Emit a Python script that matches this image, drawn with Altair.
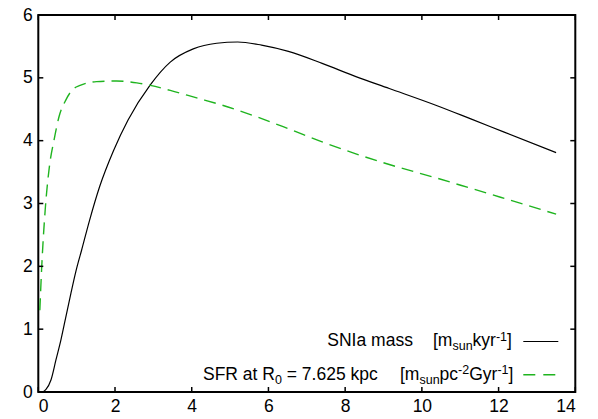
import altair as alt
import pandas as pd

# ---- data ----
snia_x = [0.12, 0.2, 0.33, 0.46, 0.59, 0.72, 0.85, 0.98, 1.13, 1.34, 1.60, 1.96, 2.34,
          2.91, 3.44, 4.04, 4.65, 5.2, 5.82, 6.52, 7.40, 8.28, 9.15, 10.38,
          11.26, 12.13, 13.5]
snia_y = [0.0, 0.04, 0.19, 0.51, 0.83, 1.20, 1.57, 1.92, 2.26, 2.74, 3.27, 3.84, 4.33,
          4.88, 5.25, 5.46, 5.55, 5.57, 5.52, 5.42, 5.23, 5.02, 4.83, 4.56,
          4.35, 4.14, 3.81]
sfr_x = [0.04, 0.09, 0.18, 0.29, 0.41, 0.54, 0.72, 0.89, 1.09, 1.52, 2.04, 2.57, 2.92,
         3.44, 4.13, 4.77, 5.65, 6.52, 7.40, 8.28, 9.15, 10.3, 11.18, 12.05, 13.5]
sfr_y = [1.30, 2.0, 2.90, 3.59, 4.01, 4.38, 4.65, 4.81, 4.88, 4.94, 4.95, 4.92, 4.88,
         4.80, 4.68, 4.57, 4.39, 4.19, 3.98, 3.79, 3.62, 3.42, 3.26, 3.10, 2.83]
x_ticks = [0, 2, 4, 6, 8, 10, 12, 14]
y_ticks = [0, 1, 2, 3, 4, 5, 6]

W, H = 537, 377
FONT = "Liberation Sans"
GREEN = "#1fb41f"

xs = alt.Scale(domain=[0, 14], nice=False, zero=False)
ys = alt.Scale(domain=[0, 6], nice=False, zero=False)

df_a = pd.DataFrame({"x": snia_x, "y": snia_y})
df_b = pd.DataFrame({"x": sfr_x, "y": sfr_y})

ax_common = dict(title=None, grid=False, ticks=False, tickSize=0, domain=False,
                 labelFontSize=17.5, labelFont=FONT, labelColor="black", format="d")
line_a = alt.Chart(df_a).mark_line(color="black", strokeWidth=1.2, interpolate="monotone", clip=True).encode(
    x=alt.X("x:Q", scale=xs, axis=alt.Axis(values=x_ticks, labelPadding=5, **ax_common)),
    y=alt.Y("y:Q", scale=ys, axis=alt.Axis(values=y_ticks, labelPadding=6, **ax_common)),
)
line_b = alt.Chart(df_b).mark_line(color=GREEN, strokeWidth=1.4, strokeDash=[12, 7],
                                   interpolate="monotone", clip=True).encode(
    x=alt.X("x:Q", scale=xs), y=alt.Y("y:Q", scale=ys))

# inward ticks on all four sides
TL = 5
dxt = pd.DataFrame({"v": x_ticks})
dyt = pd.DataFrame({"v": y_ticks})
tk = dict(color="black", strokeWidth=1.5)
xt_bot = alt.Chart(dxt).mark_rule(**tk).encode(x=alt.X("v:Q", scale=xs), y=alt.value(H), y2=alt.value(H - TL))
xt_top = alt.Chart(dxt).mark_rule(**tk).encode(x=alt.X("v:Q", scale=xs), y=alt.value(0), y2=alt.value(TL))
yt_l = alt.Chart(dyt).mark_rule(**tk).encode(y=alt.Y("v:Q", scale=ys), x=alt.value(0), x2=alt.value(TL))
yt_r = alt.Chart(dyt).mark_rule(**tk).encode(y=alt.Y("v:Q", scale=ys), x=alt.value(W), x2=alt.value(W - TL))

# ---- legend (rich text built from pieces, widths from Arial/Liberation metrics) ----
AW = {" ": 278, "S": 667, "N": 722, "I": 278, "a": 556, "m": 833, "s": 500, "[": 278, "]": 278,
      "k": 500, "y": 500, "r": 333, "-": 333, "1": 556, "2": 556, "u": 556, "n": 556, "F": 611,
      "R": 722, "t": 278, "0": 556, "=": 584, "7": 556, ".": 278, "6": 556, "5": 556, "p": 556,
      "c": 500, "G": 778}


def tw(s, size):
    return sum(AW.get(ch, 556) for ch in s) * size / 1000.0


FS, SS = 17.5, 12.5
OX, OY = 38.3, 15.0
main_pieces, small_pieces = [], []


def chain(x0, base, items):
    x = x0
    for txt, kind in items:
        size = FS if kind == "n" else SS
        if kind == "gap":
            x += tw(txt, FS)
            continue
        dy = 0 if kind == "n" else (4 if kind == "sub" else -5.5)
        rec = {"t": txt, "px": x - OX, "py": base + dy - OY}
        (main_pieces if kind == "n" else small_pieces).append(rec)
        x += tw(txt, size)


b1, b2 = 346.0, 379.5
chain(327.3, b1, [("SNIa mass", "n")])
chain(433.0, b1, [("[m", "n"), ("sun", "sub"), ("kyr", "n"), ("-1", "sup"), ("]", "n")])
chain(203.0, b2, [("SFR at R", "n"), ("0", "sub"), (" ", "gap"), ("= 7.625 kpc", "n")])
chain(400.0, b2, [("[m", "n"), ("sun", "sub"), ("pc", "n"), ("-2", "sup"), ("Gyr", "n"),
                  ("-1", "sup"), ("]", "n")])

txt_main = alt.Chart(pd.DataFrame(main_pieces)).mark_text(
    align="left", baseline="alphabetic", font=FONT, fontSize=FS, color="black").encode(
    x=alt.X("px:Q", scale=None), y=alt.Y("py:Q", scale=None), text="t:N")
txt_small = alt.Chart(pd.DataFrame(small_pieces)).mark_text(
    align="left", baseline="alphabetic", font=FONT, fontSize=SS, color="black").encode(
    x=alt.X("px:Q", scale=None), y=alt.Y("py:Q", scale=None), text="t:N")

key_a = alt.Chart(pd.DataFrame({"k": [0]})).mark_rule(color="black", strokeWidth=1.2).encode(
    x=alt.value(523.3 - OX), x2=alt.value(558.3 - OX), y=alt.value(341.5 - OY))
key_b = alt.Chart(pd.DataFrame({"k": [0]})).mark_rule(color=GREEN, strokeWidth=1.4,
                                                      strokeDash=[12, 8]).encode(
    x=alt.value(523.3 - OX), x2=alt.value(555.5 - OX), y=alt.value(374.8 - OY))

chart = alt.layer(line_a, line_b, xt_bot, xt_top, yt_l, yt_r, txt_main, txt_small, key_a, key_b).properties(
    width=W, height=H,
    autosize=alt.AutoSizeParams(type="none"),
    padding={"left": 30.3, "top": 7, "right": 598 - 16 - 30.3 - W, "bottom": 24},
    background="white",
).configure_view(stroke="black", strokeWidth=2)

chart.save("out.html", embed_options={"renderer": "svg", "actions": False})
